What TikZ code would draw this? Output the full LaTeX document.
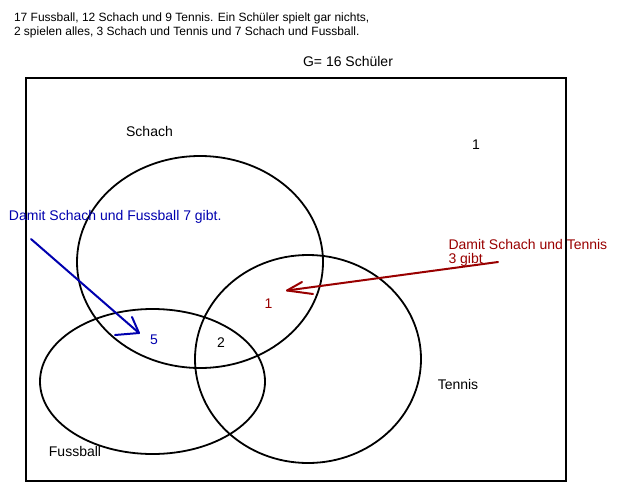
\documentclass[tikz,border=0pt]{standalone}
\usepackage{fontspec}
\setmainfont{Liberation Sans}
\definecolor{myblue}{RGB}{0,0,175}
\definecolor{myred}{RGB}{153,0,0}
\begin{document}
\begin{tikzpicture}[x=1pt,y=-1pt,
  font=\fontsize{14pt}{16pt}\selectfont,
  lbl/.style={inner sep=0pt, outer sep=0pt},
  smalltext/.style={font=\fontsize{12pt}{14pt}\selectfont},
  setline/.style={line width=1.8pt},
  frame/.style={line width=2.2pt},
  barrow/.style={draw=myblue, line width=2pt, line cap=round, line join=round},
  rarrow/.style={draw=myred, line width=2pt, line cap=round, line join=round}]
\useasboundingbox (0,0) rectangle (621,493);
\fill[white] (0,0) rectangle (621,493);

% task text
\node[lbl, smalltext, anchor=base west] (task1) at (14,21.5) {17 Fussball, 12 Schach und 9 Tennis. Ein Schüler spielt gar nichts,};
\node[lbl, smalltext, anchor=base west] (task2) at (14,35.5) {2 spielen alles, 3 Schach und Tennis und 7 Schach und Fussball.};
\node[lbl] (total) at (348,61) {G= 16 Schüler};

% universe
\draw[frame] (26,78) rectangle (566,481);

% sets
\draw[setline] (200,262) ellipse [x radius=123pt, y radius=106pt];
\draw[setline] (152.5,381.5) ellipse [x radius=112.5pt, y radius=72.5pt];
\draw[setline] (308,359) ellipse [x radius=113pt, y radius=104pt];

% set labels
\node[lbl] (schach) at (149.5,131.5) {Schach};
\node[lbl] (fussball) at (75,451) {Fussball};
\node[lbl] (tennis) at (458,384) {Tennis};

% numbers
\node[lbl] (outside) at (476,145) {1};
\node[lbl] (all) at (221,343) {2};
\node[lbl, text=myblue] (sf) at (154,340) {5};
\node[lbl, text=myred] (st) at (268.5,304) {1};

% annotations
\node[lbl, anchor=base west, text=myblue] (bnote) at (9,220) {Damit Schach und Fussball 7 gibt.};
\node[lbl, anchor=base west, text=myred] (rnote1) at (448.5,249) {Damit Schach und Tennis};
\node[lbl, anchor=base west, text=myred] (rnote2) at (448.5,263) {3 gibt};

% blue arrow
\coordinate (bstart) at (31,239);
\coordinate (btip) at (139,333);
\coordinate (bbarb1) at (132,317);
\coordinate (bbarb2) at (115,335);
\draw[barrow] (bstart) -- (btip);
\draw[barrow] (bbarb1) -- (btip) -- (bbarb2);

% red arrow
\coordinate (rstart) at (498,262);
\coordinate (rtip) at (287,290.5);
\coordinate (rbarb1) at (302,282);
\coordinate (rbarb2) at (313,294);
\draw[rarrow] (rstart) -- (rtip);
\draw[rarrow] (rbarb1) -- (rtip) -- (rbarb2);
\end{tikzpicture}
\end{document}
